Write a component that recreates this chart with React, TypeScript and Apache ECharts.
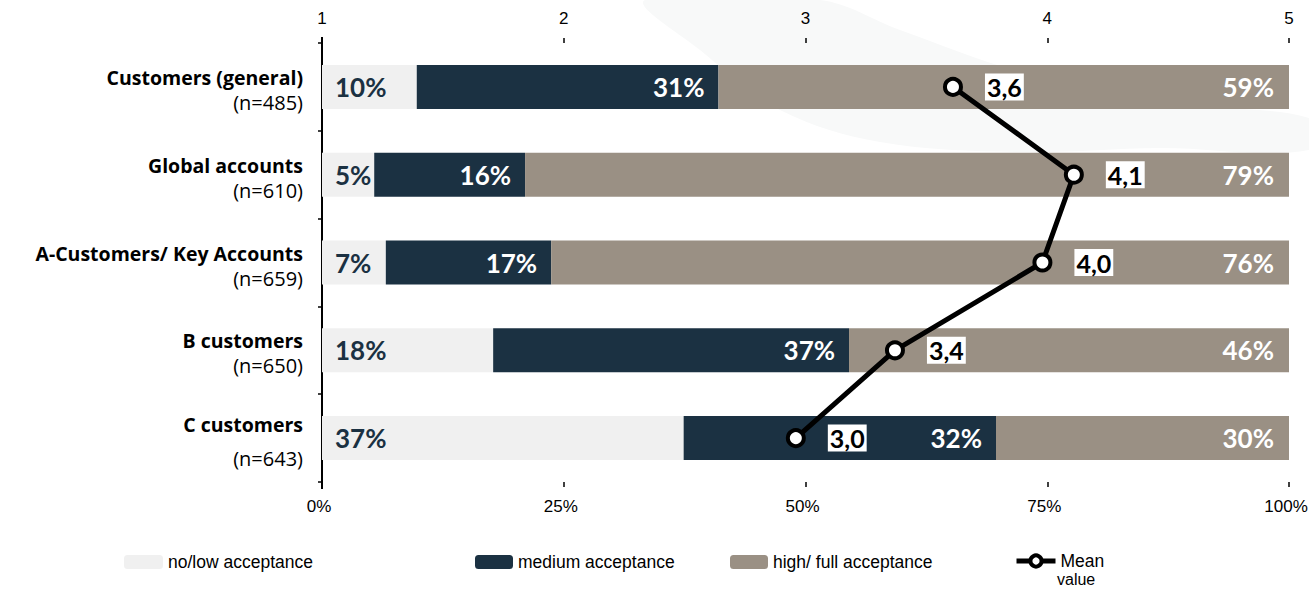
import React, { useEffect, useRef } from "react";
import * as echarts from "echarts";

const categories = [
  "Customers (general)",
  "Global accounts",
  "A-Customers/ Key Accounts",
  "B customers",
  "C customers",
];
const sampleSizes = ["(n=485)", "(n=610)", "(n=659)", "(n=650)", "(n=643)"];
const lowValues = [9.8, 5.4, 6.6, 17.7, 37.4];
const mediumValues = [31.2, 15.6, 17.1, 36.8, 32.3];
const highValues = [59.0, 79.0, 76.3, 45.5, 30.3];
const meanValues = [3.61, 4.11, 3.98, 3.37, 2.96];
const percentTicks = [0, 25, 50, 75, 100];
const meanTicks = [1, 2, 3, 4, 5];

const seriesNames = ["no/low acceptance", "medium acceptance", "high/ full acceptance", "Mean value"];

const NAVY = "#1b3142";
const GRAY = "#9a9084";
const LIGHT = "#f0f0f0";
const LABEL_FONT = "'Open Sans', Lato, sans-serif";
const PCT_FONT = "Lato, 'Open Sans', sans-serif";
const AXIS_FONT = "'Liberation Sans Narrow', 'Liberation Sans', Arial, sans-serif";

export default function App() {
  const ref = useRef<HTMLDivElement>(null);
  useEffect(() => {
    if (!ref.current) return;
    const chart = echarts.init(ref.current, null, { renderer: "svg" });
    const pctLabel = (p: any) => Math.round(p.value) + "%";
    const legendText = { fontFamily: AXIS_FONT, fontSize: 17.5, color: "#000" };
    const option: any = {
      animation: false,
      backgroundColor: "#ffffff",
      graphic: [
        {
          type: "polygon",
          z: -10,
          silent: true,
          shape: {
            smooth: 0.35,
            points: [
              [645, 0],
              [700, 50],
              [780, 110],
              [880, 142],
              [1020, 152],
              [1160, 148],
              [1309, 150],
              [1309, 118],
              [1160, 104],
              [1020, 72],
              [900, 30],
              [820, 0],
            ],
          },
          style: { fill: "#f8f9f9" },
        },
        {
          type: "line",
          silent: true,
          shape: { x1: 322, y1: 37, x2: 322, y2: 489 },
          style: { stroke: "#000", lineWidth: 2 },
        },
        {
          type: "text",
          left: 1057,
          top: 571,
          style: { text: "value", font: "16px " + AXIS_FONT, fill: "#000" },
        },
      ],
      grid: { left: 322, right: 20, top: 43, bottom: 107, containLabel: false, outerBoundsMode: "none" },
      legend: [
        {
          data: [seriesNames[0]],
          left: 124,
          top: 553,
          padding: 0,
          itemWidth: 39,
          itemHeight: 14,
          textStyle: legendText,
        },
        {
          data: [seriesNames[1]],
          left: 475,
          top: 553,
          padding: 0,
          itemWidth: 38,
          itemHeight: 14,
          textStyle: legendText,
        },
        {
          data: [seriesNames[2]],
          left: 730,
          top: 553,
          padding: 0,
          itemWidth: 38,
          itemHeight: 14,
          textStyle: legendText,
        },
        {
          data: [seriesNames[3]],
          left: 1014,
          top: 552,
          padding: 0,
          itemWidth: 39,
          itemHeight: 14,
          formatter: () => "Mean",
          lineStyle: { color: "#000", width: 5 },
          itemStyle: { color: "#fff", borderColor: "#000", borderWidth: 4 },
          textStyle: legendText,
        },
      ],
      xAxis: [
        {
          type: "value",
          position: "bottom",
          min: percentTicks[0],
          max: percentTicks[percentTicks.length - 1],
          interval: 25,
          axisLine: { show: false },
          axisTick: { show: true, length: 5, lineStyle: { color: "#000", width: 1.5 } },
          splitLine: { show: false },
          axisLabel: {
            margin: 16,
            padding: [0, 6, 0, 0],
            fontFamily: AXIS_FONT,
            fontSize: 17,
            color: "#000",
            formatter: (v: number) => v + "%",
          },
        },
        {
          type: "value",
          position: "top",
          min: meanTicks[0],
          max: meanTicks[meanTicks.length - 1],
          interval: 1,
          axisLine: { show: false },
          axisTick: { show: true, length: 5, lineStyle: { color: "#000", width: 1.5 } },
          splitLine: { show: false },
          axisLabel: {
            margin: 16,
            fontFamily: AXIS_FONT,
            fontSize: 17,
            color: "#000",
          },
        },
      ],
      yAxis: {
        type: "category",
        inverse: true,
        data: categories,
        axisLine: { show: true, lineStyle: { color: "#000", width: 2 } },
        axisTick: { show: true, length: 4, lineStyle: { color: "#000", width: 1.5 } },
        axisLabel: {
          margin: 19,
          align: "right",
          padding: [6, 0, 0, 0],
          formatter: (v: string, i: number) =>
            i === categories.length - 1
              ? `{b2|${v}}\n{n2|${sampleSizes[i]}}`
              : `{b|${v}}\n{n|${sampleSizes[i]}}`,
          rich: {
            b: { fontFamily: LABEL_FONT, fontWeight: "bold", fontSize: 19.5, color: "#000", lineHeight: 25, align: "right" },
            n: { fontFamily: LABEL_FONT, fontSize: 20, color: "#000", lineHeight: 25, align: "right" },
            b2: { fontFamily: LABEL_FONT, fontWeight: "bold", fontSize: 19.5, color: "#000", lineHeight: 34, align: "right" },
            n2: { fontFamily: LABEL_FONT, fontSize: 20, color: "#000", lineHeight: 34, align: "right" },
          },
        },
      },
      series: [
        {
          name: seriesNames[0],
          type: "bar",
          stack: "share",
          barWidth: 44,
          xAxisIndex: 0,
          data: lowValues,
          itemStyle: { color: LIGHT },
          label: {
            show: true,
            position: "insideLeft",
            distance: 13,
            formatter: pctLabel,
            fontFamily: PCT_FONT,
            fontWeight: "bold",
            fontSize: 26,
            color: NAVY,
          },
        },
        {
          name: seriesNames[1],
          type: "bar",
          stack: "share",
          barWidth: 44,
          xAxisIndex: 0,
          data: mediumValues,
          itemStyle: { color: NAVY },
          label: {
            show: true,
            position: "insideRight",
            distance: 14,
            formatter: pctLabel,
            fontFamily: PCT_FONT,
            fontWeight: "bold",
            fontSize: 26,
            color: "#ffffff",
          },
        },
        {
          name: seriesNames[2],
          type: "bar",
          stack: "share",
          barWidth: 44,
          xAxisIndex: 0,
          data: highValues,
          itemStyle: { color: GRAY },
          label: {
            show: true,
            position: "insideRight",
            distance: 15,
            formatter: pctLabel,
            fontFamily: PCT_FONT,
            fontWeight: "bold",
            fontSize: 26,
            color: "#ffffff",
          },
        },
        {
          name: seriesNames[3],
          type: "line",
          xAxisIndex: 1,
          z: 5,
          data: meanValues,
          symbol: "circle",
          symbolSize: 16,
          lineStyle: { color: "#000", width: 5 },
          itemStyle: { color: "#ffffff", borderColor: "#000", borderWidth: 4 },
          label: {
            show: true,
            position: "right",
            distance: 22,
            formatter: (p: any) => p.value.toFixed(1).replace(".", ","),
            fontFamily: PCT_FONT,
            fontWeight: "bold",
            fontSize: 25,
            color: "#000",
            backgroundColor: "#ffffff",
            padding: [2, 2, 0, 2],
          },
        },
      ],
    };
    chart.setOption(option);
    return () => chart.dispose();
  }, []);
  return (
    <div
      ref={ref}
      style={{ position: "fixed", left: 0, top: 0, width: 1309, height: 589 }}
    />
  );
}
